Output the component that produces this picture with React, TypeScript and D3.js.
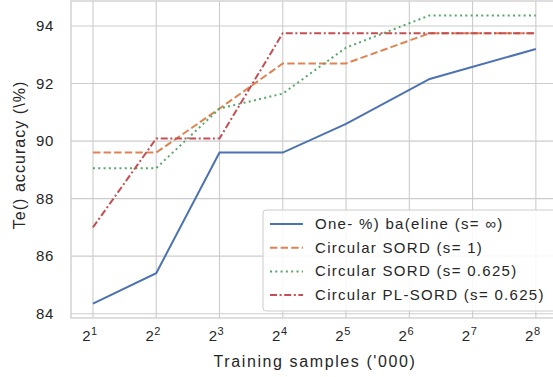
import { useEffect, useRef } from "react";
import * as d3 from "d3";

// training samples ('000)
const samples = [2, 4, 8, 16, 32, 80, 256];
const baseline = [84.35, 85.41, 89.6, 89.6, 90.6, 92.16, 93.2];
const sord1 = [89.6, 89.6, 91.13, 92.7, 92.7, 93.75, 93.75];
const sord0625 = [89.06, 89.06, 91.13, 91.65, 93.25, 94.37, 94.37];
const plSord = [87.0, 90.09, 90.09, 93.75, 93.75, 93.75, 93.75];
const xTickExp = [1, 2, 3, 4, 5, 6, 7, 8];
const yTicks = [84, 86, 88, 90, 92, 94];
const legendLabels = [
  "One-  %) ba(eline (s= \u221e)",
  "Circular SORD (s= 1)",
  "Circular SORD (s= 0.625)",
  "Circular PL-SORD (s= 0.625)",
];

const seriesList = [
  { values: baseline, color: "#4c72b0", dash: "" },
  { values: sord1, color: "#dd8452", dash: "7.4,3.2" },
  { values: sord0625, color: "#55a868", dash: "2,3.3" },
  { values: plSord, color: "#c44e52", dash: "7,2.6,2,2.6" },
];

const font = "'Liberation Sans', Arial, sans-serif";

const App = () => {
  const svgRef = useRef<SVGSVGElement>(null);

  useEffect(() => {
    if (!svgRef.current) return;
    const width = 553;
    const height = 377;
    const svg = d3.select(svgRef.current);
    svg.selectAll("*").remove();

    const left = 71;
    const right = 558;
    const top = 1;
    const bottom = 318;

    const x = d3.scaleLog().base(2).domain([Math.pow(2, 0.653), Math.pow(2, 8.35)]).range([left, right]);
    const y = d3.scaleLinear().domain([83.85, 94.87]).range([bottom, top]);

    svg.append("rect").attr("width", width).attr("height", height).attr("fill", "#fff");

    // grid
    const grid = svg.append("g").attr("stroke", "#cccccc").attr("stroke-width", 1.1);
    xTickExp.forEach((e) => {
      grid.append("line")
        .attr("x1", x(Math.pow(2, e))).attr("x2", x(Math.pow(2, e)))
        .attr("y1", top).attr("y2", bottom);
    });
    yTicks.forEach((t) => {
      grid.append("line")
        .attr("x1", left).attr("x2", right)
        .attr("y1", y(t)).attr("y2", y(t));
    });

    // frame
    svg.append("rect")
      .attr("x", left).attr("y", top)
      .attr("width", right - left).attr("height", bottom - top)
      .attr("fill", "none").attr("stroke", "#cccccc").attr("stroke-width", 1.3);

    // lines
    const line = d3.line<number>()
      .x((d, i) => x(samples[i]))
      .y((d) => y(d));

    seriesList.forEach((s) => {
      svg.append("path")
        .datum(s.values)
        .attr("d", line)
        .attr("fill", "none")
        .attr("stroke", s.color)
        .attr("stroke-width", 2)
        .attr("stroke-dasharray", s.dash || null);
    });

    // tick labels
    const xt = svg.append("g").attr("font-family", font).attr("fill", "#262626");
    xTickExp.forEach((e) => {
      const t = xt.append("text")
        .attr("x", x(Math.pow(2, e)) - 3)
        .attr("y", 341)
        .attr("text-anchor", "middle")
        .attr("font-size", 15)
        .attr("letter-spacing", 0.5);
      t.append("tspan").text("2");
      t.append("tspan").attr("dy", -6).attr("font-size", 11).text(String(e));
    });

    const yt = svg.append("g").attr("font-family", font).attr("fill", "#262626");
    yTicks.forEach((v) => {
      yt.append("text")
        .attr("x", 54)
        .attr("y", y(v) + 5)
        .attr("text-anchor", "end")
        .attr("font-size", 15)
        .attr("letter-spacing", 0.6)
        .text(String(v));
    });

    // axis titles
    svg.append("text")
      .attr("x", 315).attr("y", 367)
      .attr("text-anchor", "middle")
      .attr("font-family", font).attr("font-size", 16)
      .attr("letter-spacing", 1.6)
      .attr("fill", "#262626")
      .text("Training samples ('000)");

    svg.append("text")
      .attr("transform", "translate(25,155) rotate(-90)")
      .attr("text-anchor", "middle")
      .attr("font-family", font).attr("font-size", 16)
      .attr("letter-spacing", 1.05)
      .attr("fill", "#262626")
      .text("Te() accuracy (\\%)");

    // legend
    const lg = svg.append("g");
    lg.append("rect")
      .attr("x", 263).attr("y", 210)
      .attr("width", 300).attr("height", 101)
      .attr("rx", 3)
      .attr("fill", "#fff").attr("fill-opacity", 0.85)
      .attr("stroke", "#cccccc").attr("stroke-width", 1);

    seriesList.forEach((s, i) => {
      const ry = 224 + i * 23.7;
      lg.append("line")
        .attr("x1", 270).attr("x2", 303)
        .attr("y1", ry).attr("y2", ry)
        .attr("stroke", s.color).attr("stroke-width", 2)
        .attr("stroke-dasharray", s.dash || null);
      lg.append("text")
        .attr("x", 315).attr("y", ry + 5)
        .attr("font-family", font).attr("font-size", 15)
        .attr("letter-spacing", 1.3)
        .attr("fill", "#262626")
        .text(legendLabels[i]);
    });
  }, []);

  return (
    <svg
      ref={svgRef}
      width={553}
      height={377}
      style={{ position: "absolute", left: 0, top: 0, display: "block" }}
    ></svg>
  );
};

export default App;
